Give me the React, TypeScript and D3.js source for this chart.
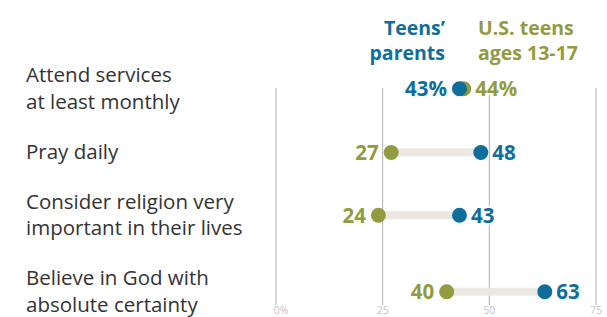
import React from "react";
import * as d3 from "d3";

const categories: string[][] = [
  ["Attend services", "at least monthly"],
  ["Pray daily"],
  ["Consider religion very", "important in their lives"],
  ["Believe in God with", "absolute certainty"],
];
const parents = [43, 48, 43, 63];
const teens = [44, 27, 24, 40];
const ticks = [0, 25, 50, 75];
const tickLabels = ["0%", "25", "50", "75"];

const W = 607;
const H = 317;
const BLUE = "#0f6e9c";
const GREEN = "#939b40";
const FONT = "'Open Sans', 'Liberation Sans', sans-serif";

export default function App() {
  const x = d3.scaleLinear().domain([0, 75]).range([276, 596]);
  const r = 7.5;
  const lineH = 26.5;
  const gap = 50;

  let cur = 82;
  const rows = categories.map((lines, i) => {
    const baselines = lines.map((_, j) => cur + j * lineH);
    const last = baselines[baselines.length - 1];
    const mid = (baselines[0] + last) / 2;
    const y = mid - (lines.length > 1 ? 6.5 : 6);
    cur = last + gap;
    return { lines, baselines, y, p: parents[i], t: teens[i], i };
  });

  return (
    <svg width={W} height={H} style={{ position: "absolute", left: 0, top: 0, background: "#fff" }}>
      <rect width={W} height={H} fill="#fff" />
      {ticks.map((t, i) => (
        <g key={t}>
          <line x1={x(t)} x2={x(t)} y1={88} y2={305} stroke="#b0b0b0" strokeWidth={1} />
          <text
            x={i === 0 ? x(t) + 5 : x(t)}
            y={314}
            textAnchor="middle"
            fontFamily={FONT}
            fontSize={10.5}
            fill="#c4c4c4"
          >
            {tickLabels[i]}
          </text>
        </g>
      ))}
      <g fontFamily={FONT} fontWeight={700} fontSize={19.5}>
        <text x={445} y={35} textAnchor="end" fill={BLUE}>Teens’</text>
        <text x={445} y={60} textAnchor="end" fill={BLUE}>parents</text>
        <text x={478} y={35} fill={GREEN}>U.S. teens</text>
        <text x={478} y={60} fill={GREEN}>ages 13-17</text>
      </g>
      {rows.map((row) => {
        const lo = Math.min(row.p, row.t);
        const hi = Math.max(row.p, row.t);
        const loIsParent = row.p <= row.t;
        const suffix = row.i === 0 ? "%" : "";
        return (
          <g key={row.i}>
            {row.lines.map((l, j) => (
              <text key={j} x={26} y={row.baselines[j]} fontFamily={FONT} fontSize={20.5} fill="#333">
                {l}
              </text>
            ))}
            <line
              x1={x(lo)}
              x2={x(hi)}
              y1={row.y}
              y2={row.y}
              stroke="#ebe8e2"
              strokeWidth={8}
            />
            <circle cx={x(row.t)} cy={row.y} r={r} fill={GREEN} />
            <circle cx={x(row.p)} cy={row.y} r={r} fill={BLUE} />
            <text
              x={x(lo) - r - 5}
              y={row.y + 7.5}
              textAnchor="end"
              fontFamily={FONT}
              fontWeight={700}
              fontSize={20.5}
              fill={loIsParent ? BLUE : GREEN}
              stroke="#fff"
              strokeWidth={4}
              paintOrder="stroke"
            >
              {lo}
              {suffix}
            </text>
            <text
              x={x(hi) + r + 4}
              y={row.y + 7.5}
              fontFamily={FONT}
              fontWeight={700}
              fontSize={20.5}
              fill={loIsParent ? GREEN : BLUE}
              stroke="#fff"
              strokeWidth={4}
              paintOrder="stroke"
            >
              {hi}
              {suffix}
            </text>
          </g>
        );
      })}
    </svg>
  );
}
